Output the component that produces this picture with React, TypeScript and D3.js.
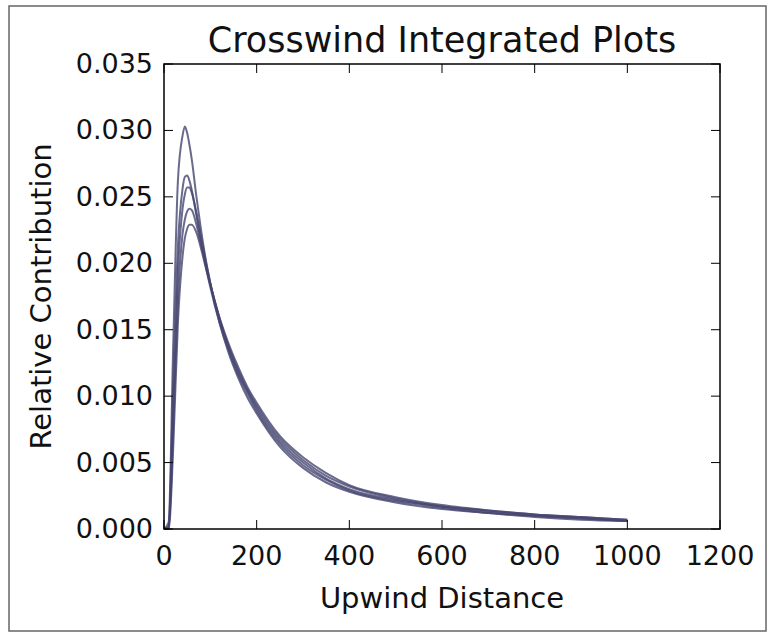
import React from "react";
import * as d3 from "d3";

// Upwind distance samples shared by every run
const distance = [0, 10, 20, 30, 40, 45, 50, 55, 60, 70, 80, 90, 100, 120, 140, 160, 180, 200, 250, 300, 350, 400, 500, 600, 700, 800, 900, 1000];

// Crosswind-integrated relative contribution for each run
const runA = [0, 0.0005, 0.014, 0.0262, 0.0296, 0.0303, 0.0298, 0.0289, 0.0278, 0.025, 0.0225, 0.0203, 0.0185, 0.0155, 0.0132, 0.0114, 0.0099, 0.0087, 0.0062, 0.0046, 0.0035, 0.0028, 0.002, 0.0015, 0.0012, 0.0009, 0.0007, 0.0006];
const runB = [0, 0.0002, 0.011, 0.0213, 0.0256, 0.0265, 0.0266, 0.0262, 0.0255, 0.0236, 0.0216, 0.0198, 0.0182, 0.0155, 0.0134, 0.0116, 0.0102, 0.0089, 0.0064, 0.0048, 0.0037, 0.0029, 0.0021, 0.0016, 0.0012, 0.001, 0.0008, 0.0006];
const runC = [0, 0.0001, 0.009, 0.0193, 0.0241, 0.0252, 0.0257, 0.0257, 0.0253, 0.0238, 0.022, 0.0202, 0.0185, 0.0158, 0.0136, 0.0118, 0.0104, 0.0091, 0.0066, 0.005, 0.0038, 0.003, 0.0022, 0.0017, 0.0013, 0.001, 0.0008, 0.0006];
const runD = [0, 0.0001, 0.0075, 0.0172, 0.0222, 0.0233, 0.0239, 0.0241, 0.024, 0.0229, 0.0214, 0.0199, 0.0184, 0.0158, 0.0137, 0.012, 0.0105, 0.0093, 0.0068, 0.0052, 0.004, 0.0032, 0.0023, 0.0017, 0.0014, 0.0011, 0.0009, 0.0007];
const runE = [0, 0, 0.0062, 0.0155, 0.0205, 0.0219, 0.0226, 0.0229, 0.0229, 0.0223, 0.0211, 0.0197, 0.0184, 0.0159, 0.0139, 0.0122, 0.0107, 0.0095, 0.007, 0.0054, 0.0042, 0.0033, 0.0024, 0.0018, 0.0014, 0.0011, 0.0009, 0.0007];
const runs = [runA, runB, runC, runD, runE];

const xTicks = [0, 200, 400, 600, 800, 1000, 1200];
const yTicks = [0, 0.005, 0.01, 0.015, 0.02, 0.025, 0.03, 0.035];

const W = 773;
const H = 635;
const left = 164;
const right = 720;
const top = 64;
const bottom = 529;
const FONT = "'DejaVu Sans', sans-serif";

export default function App() {
  const x = d3.scaleLinear().domain([0, 1200]).range([left, right]);
  const y = d3.scaleLinear().domain([0, 0.035]).range([bottom, top]);
  const line = d3
    .line<number>()
    .x((_, i) => x(distance[i]))
    .y((v) => y(v))
    .curve(d3.curveMonotoneX);
  const tickLen = 9;

  return (
    <svg
      width={W}
      height={H}
      style={{ position: "absolute", left: 0, top: 0, background: "#fff" }}
      fontFamily={FONT}
    >
      <rect x={9} y={6} width={757} height={625} fill="#fff" stroke="#666" strokeWidth={1.5} />

      <g fill="none" stroke="#454570" strokeWidth={2} strokeOpacity={0.8} strokeLinejoin="round">
        {runs.map((r, i) => (
          <path key={i} d={line(r) ?? ""} />
        ))}
      </g>

      <g stroke="#000" strokeWidth={1}>
        {xTicks.map((t) => (
          <g key={"x" + t}>
            <line x1={x(t)} x2={x(t)} y1={bottom} y2={bottom - tickLen} />
            <line x1={x(t)} x2={x(t)} y1={top} y2={top + tickLen} />
          </g>
        ))}
        {yTicks.map((t) => (
          <g key={"y" + t}>
            <line x1={left} x2={left + tickLen} y1={y(t)} y2={y(t)} />
            <line x1={right} x2={right - tickLen} y1={y(t)} y2={y(t)} />
          </g>
        ))}
      </g>
      <rect x={left} y={top} width={right - left} height={bottom - top} fill="none" stroke="#000" strokeWidth={1.5} />

      <g fontSize={27} fill="#111">
        {xTicks.map((t) => (
          <text key={"xl" + t} x={x(t)} y={565} textAnchor="middle">
            {t}
          </text>
        ))}
        {yTicks.map((t) => (
          <text key={"yl" + t} x={153} y={y(t) + 9} textAnchor="end">
            {d3.format(".3f")(t)}
          </text>
        ))}
      </g>

      <text x={(left + right) / 2} y={52} textAnchor="middle" fontSize={35} fill="#111">
        Crosswind Integrated Plots
      </text>
      <text x={(left + right) / 2} y={608} textAnchor="middle" fontSize={29} fill="#111">
        Upwind Distance
      </text>
      <text
        transform={`translate(51, ${(top + bottom) / 2}) rotate(-90)`}
        textAnchor="middle"
        fontSize={29}
        fill="#111"
      >
        Relative Contribution
      </text>
    </svg>
  );
}
